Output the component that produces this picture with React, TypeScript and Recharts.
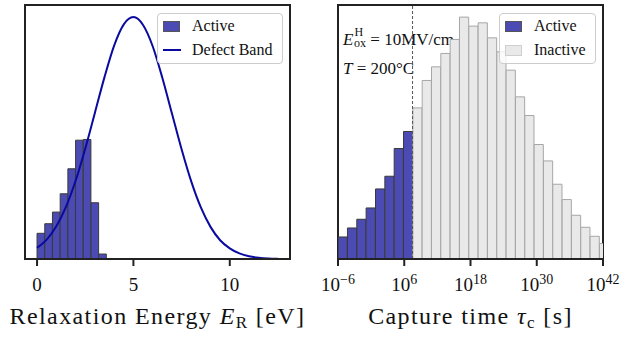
import React from 'react';
import {
  ComposedChart,
  Bar,
  Line,
  XAxis,
  YAxis,
  ReferenceLine,
  ReferenceArea,
  Legend,
  Customized,
} from 'recharts';

// fonts / colours
const FONT = '"Liberation Serif", "DejaVu Serif", serif';
const FRAME = '#222222';
const TEXT = '#111111';
const ACTIVE_FILL = '#4b4bb3';
const ACTIVE_EDGE = '#3a3a3a';
const INACTIVE_FILL = '#e9e9e9';
const INACTIVE_EDGE = '#a6a6a6';
const BAND_COLOR = '#0a0aa0';

// left panel: relaxation energy histogram (bins of 0.4 eV) + defect band
const ER_BIN_CENTERS = [0.2, 0.6, 1.0, 1.4, 1.8, 2.2, 2.6, 3.0, 3.4];
const ER_ACTIVE = [0.0212, 0.0291, 0.0387, 0.0538, 0.0744, 0.098, 0.0986, 0.0464, 0.0041];
const BAND_ER = [
  0, 0.5, 1, 1.5, 2, 2.5, 3, 3.5, 4, 4.5, 5, 5.5, 6, 6.5, 7, 7.5, 8, 8.5, 9, 9.5, 10, 10.5, 11,
  11.5, 12, 12.5,
];
const BAND_DENSITY = [
  0.0092, 0.016, 0.027, 0.043, 0.0645, 0.091, 0.1205, 0.15, 0.176, 0.1935, 0.1995, 0.193, 0.1755,
  0.1495, 0.12, 0.0905, 0.064, 0.0425, 0.0265, 0.0155, 0.0088, 0.0046, 0.0022, 0.001, 0.0004,
  0.0002,
];
const ER_DOMAIN: [number, number] = [-0.625, 13.125];
const ER_TICKS = [0, 5, 10];
const ER_YMAX = 0.2095;

// right panel: capture time histogram, log10(tau) bin centres
const TAU_ACTIVE_CENTERS = [-5.13, -3.44, -1.75, -0.06, 1.64, 3.33, 5.02, 6.71];
const TAU_ACTIVE = [22, 31, 39.7, 51, 70, 82.7, 110.4, 127.4];
const TAU_INACTIVE_CENTERS = [
  8.4, 10.09, 11.78, 13.47, 15.16, 16.85, 18.54, 20.23, 21.92, 23.61, 25.3, 26.99, 28.68, 30.37,
  32.06, 33.75, 35.44, 37.13, 38.82, 40.51, 42.2,
];
const TAU_INACTIVE = [
  151, 178.4, 192, 205.4, 219.4, 241.7, 232.7, 236, 221, 207, 188.7, 162, 143.4, 114.4, 98, 74.7,
  59.4, 43.7, 31.7, 22.7, 15.4,
];
const TAU_DOMAIN: [number, number] = [-6, 42];
const TAU_TICKS = [-6, 6, 18, 30, 42];
const TAU_YMAX = 253.8;
const ONE_YEAR_LOG = 7.5;

const erBars = ER_BIN_CENTERS.map((x, i) => ({ x, active: ER_ACTIVE[i] }));
const bandRows = BAND_ER.map((x, i) => ({ x, band: BAND_DENSITY[i] }));
const tauRows = [
  ...TAU_ACTIVE_CENTERS.map((t, i) => ({ t, active: TAU_ACTIVE[i] })),
  ...TAU_INACTIVE_CENTERS.map((t, i) => ({ t, inactive: TAU_INACTIVE[i] })),
];

const frameLine = { stroke: FRAME, strokeWidth: 2 };
const tickStyle = { fontSize: 19, fontFamily: FONT, fill: TEXT };

type LegendItem = { label: string; kind: 'patch' | 'line'; fill: string; edge?: string };

const LegendBox = ({ items, boxWidth }: { items: LegendItem[]; boxWidth: number }) => (
  <div
    style={{
      boxSizing: 'border-box',
      width: boxWidth,
      height: 51,
      border: '1px solid #cccccc',
      borderRadius: 4,
      background: 'rgba(255,255,255,0.8)',
      fontFamily: FONT,
      fontSize: 16,
      color: TEXT,
      paddingLeft: 5,
    }}
  >
    {items.map((it) => (
      <div key={it.label} style={{ display: 'flex', alignItems: 'center', height: 24 }}>
        {it.kind === 'patch' ? (
          <div
            style={{
              boxSizing: 'border-box',
              width: 17,
              height: 11,
              background: it.fill,
              border: `1px solid ${it.edge}`,
            }}
          />
        ) : (
          <div style={{ width: 18, height: 2, background: it.fill }} />
        )}
        <span style={{ marginLeft: it.kind === 'patch' ? 12 : 11, whiteSpace: 'nowrap' }}>
          {it.label}
        </span>
      </div>
    ))}
  </div>
);

const titleProps = {
  textAnchor: 'middle' as const,
  fontFamily: FONT,
  fontSize: 24,
  letterSpacing: 1.4,
  fill: TEXT,
};

const ErTitle = (props: any) => {
  const { x, y, width } = props.viewBox;
  return (
    <text x={x + width / 2} y={y + 65} {...titleProps}>
      {'Relaxation Energy '}
      <tspan fontStyle="italic">E</tspan>
      <tspan fontSize={17} dy={4}>R</tspan>
      <tspan dy={-4}>{' [eV]'}</tspan>
    </text>
  );
};

const TauTitle = (props: any) => {
  const { x, y, width } = props.viewBox;
  return (
    <text x={x + width / 2} y={y + 65} {...titleProps}>
      {'Capture time '}
      <tspan fontStyle="italic">τ</tspan>
      <tspan fontSize={17} dy={4}>c</tspan>
      <tspan dy={-4}>{' [s]'}</tspan>
    </text>
  );
};

const PowTick = (props: any) => {
  const { x, y, payload } = props;
  const v = payload.value;
  return (
    <text x={x} y={y} dy="0.71em" textAnchor="middle" fontFamily={FONT} fontSize={19} fill={TEXT}>
      10
      <tspan dy={-7.5} fontSize={14}>
        {v < 0 ? `−${Math.abs(v)}` : `${v}`}
      </tspan>
    </text>
  );
};

const Conditions = () => (
  <g fontFamily={FONT} fontSize={17} fill={TEXT}>
    <text x={32} y={45}>
      <tspan fontStyle="italic">E</tspan>
      <tspan fontSize={12} dx={1} dy={-9}>H</tspan>
      <tspan fontSize={12} dx={-9} dy={11}>ox</tspan>
      <tspan dy={-2}>{' = 10MV/cm'}</tspan>
    </text>
    <text x={32} y={74}>
      <tspan fontStyle="italic">T</tspan>
      {' = 200°C'}
    </text>
  </g>
);

const EnergyChart = () => (
  <ComposedChart width={311} height={340} data={erBars} margin={{ top: 5, right: 21, bottom: 0, left: 25 }}>
    <XAxis xAxisId="bins" type="number" dataKey="x" domain={ER_DOMAIN} allowDataOverflow hide />
    <XAxis
      xAxisId="band"
      type="number"
      dataKey="x"
      domain={ER_DOMAIN}
      allowDataOverflow
      ticks={ER_TICKS}
      height={81}
      tickSize={7}
      tickMargin={12}
      tick={tickStyle}
      axisLine={frameLine}
      tickLine={frameLine}
      label={<ErTitle />}
    />
    <YAxis yAxisId="l" domain={[0, ER_YMAX]} allowDataOverflow hide />
    <Bar
      xAxisId="bins"
      yAxisId="l"
      dataKey="active"
      name="Active"
      barSize={7.6}
      fill={ACTIVE_FILL}
      stroke={ACTIVE_EDGE}
      strokeWidth={1}
      isAnimationActive={false}
    />
    <Line
      xAxisId="band"
      yAxisId="l"
      data={bandRows}
      dataKey="band"
      name="Defect Band"
      type="monotone"
      stroke={BAND_COLOR}
      strokeWidth={2}
      dot={false}
      isAnimationActive={false}
    />
    <ReferenceArea
      xAxisId="band"
      yAxisId="l"
      x1={ER_DOMAIN[0]}
      x2={ER_DOMAIN[1]}
      y1={0}
      y2={ER_YMAX}
      fill="none"
      fillOpacity={0}
      stroke={FRAME}
      strokeWidth={2}
      ifOverflow="visible"
    />
    <Legend
      verticalAlign="middle"
      align="center"
      layout="horizontal"
      wrapperStyle={{ left: 157, top: 13, width: 126 }}
      content={
        <LegendBox
          boxWidth={126}
          items={[
            { label: 'Active', kind: 'patch', fill: ACTIVE_FILL, edge: '#555555' },
            { label: 'Defect Band', kind: 'line', fill: BAND_COLOR },
          ]}
        />
      }
    />
  </ComposedChart>
);

const CaptureChart = () => (
  <ComposedChart width={311} height={340} data={tauRows} margin={{ top: 5, right: 19, bottom: 0, left: 27 }}>
    <XAxis
      xAxisId="tau"
      type="number"
      dataKey="t"
      domain={TAU_DOMAIN}
      allowDataOverflow
      ticks={TAU_TICKS}
      height={81}
      tickSize={7}
      tickMargin={12}
      tick={<PowTick />}
      axisLine={frameLine}
      tickLine={frameLine}
      label={<TauTitle />}
    />
    <YAxis yAxisId="l" domain={[0, TAU_YMAX]} allowDataOverflow hide />
    <ReferenceLine xAxisId="tau" yAxisId="l" x={ONE_YEAR_LOG} stroke="#555555" strokeWidth={1} strokeDasharray="3 2" />
    <Bar
      xAxisId="tau"
      yAxisId="l"
      dataKey="active"
      name="Active"
      stackId="h"
      barSize={9.2}
      fill={ACTIVE_FILL}
      stroke={ACTIVE_EDGE}
      strokeWidth={1}
      isAnimationActive={false}
    />
    <Bar
      xAxisId="tau"
      yAxisId="l"
      dataKey="inactive"
      name="Inactive"
      stackId="h"
      barSize={9.2}
      fill={INACTIVE_FILL}
      stroke={INACTIVE_EDGE}
      strokeWidth={1}
      isAnimationActive={false}
    />
    <ReferenceArea
      xAxisId="tau"
      yAxisId="l"
      x1={TAU_DOMAIN[0]}
      x2={TAU_DOMAIN[1]}
      y1={0}
      y2={TAU_YMAX}
      fill="none"
      fillOpacity={0}
      stroke={FRAME}
      strokeWidth={2}
      ifOverflow="visible"
    />
    <Customized component={<Conditions />} />
    <Legend
      verticalAlign="middle"
      align="center"
      layout="horizontal"
      wrapperStyle={{ left: 188, top: 13, width: 97 }}
      content={
        <LegendBox
          boxWidth={97}
          items={[
            { label: 'Active', kind: 'patch', fill: ACTIVE_FILL, edge: '#555555' },
            { label: 'Inactive', kind: 'patch', fill: INACTIVE_FILL, edge: '#cfcfcf' },
          ]}
        />
      }
    />
  </ComposedChart>
);

export default function App() {
  return (
    <div
      style={{
        position: 'absolute',
        left: 0,
        top: 0,
        width: 622,
        height: 340,
        display: 'flex',
        background: '#ffffff',
      }}
    >
      <EnergyChart />
      <CaptureChart />
    </div>
  );
}
